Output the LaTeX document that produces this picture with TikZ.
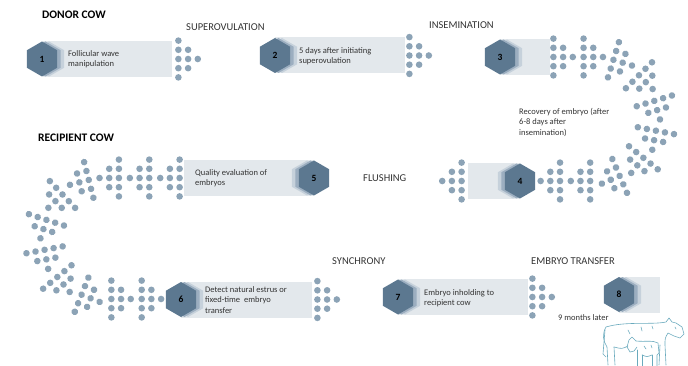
\documentclass[tikz,border=0pt]{standalone}
\usepackage{fontspec}
\setmainfont{Carlito}
\usetikzlibrary{shapes.geometric,decorations.markings}

\definecolor{hexdark}{HTML}{5C7890}
\definecolor{hexmid}{HTML}{9CAEC0}
\definecolor{hexlight}{HTML}{C6D1DB}
\definecolor{boxfill}{HTML}{E3E8EC}
\definecolor{dotfill}{HTML}{8CA3B6}
\definecolor{cowline}{HTML}{6AAABD}
\definecolor{inktext}{HTML}{333333}

\tikzset{
  hexstep/.style={regular polygon, regular polygon sides=6, shape border rotate=30,
    minimum size=35, inner sep=0pt, fill=hexdark, font=\bfseries\fontsize{9.5}{11}\selectfont},
  hexshade/.style={regular polygon, regular polygon sides=6, shape border rotate=30,
    minimum size=35, inner sep=0pt, fill=#1},
  stepbox/.style={fill=boxfill, minimum height=36, inner sep=0pt},
  steptext/.style={anchor=west, align=left, inner sep=0pt, text=inktext,
    font=\fontsize{8.5}{10.5}\selectfont},
  caption/.style={anchor=west, inner sep=0pt, text=inktext, font=\fontsize{10.5}{12}\selectfont},
  heading/.style={anchor=west, inner sep=0pt, font=\bfseries\fontsize{11.5}{13}\selectfont},
  dotarrow/.pic={
    \foreach \r in {-2,...,2} \fill[dotfill] (0,9.2*\r) circle (3.3);
    \foreach \r in {-1,0,1} \fill[dotfill] (9.7,9.2*\r) circle (3.3);
    \fill[dotfill] (19.4,0) circle (3.3);
  },
  dotchain/.style={decorate, decoration={markings,
    mark=between positions 0 and 1 step #1 with {\pic[transform shape]{dotarrow};}}}
}

% hexagon with its two lighter copies behind it
\newcommand\hexbadge[5]{%
  \node[hexshade=hexlight] (#1c) at (#2+#4*7,#3) {};
  \node[hexshade=hexmid] (#1b) at (#2+#4*3.5,#3) {};
  \node[hexstep] (#1) at (#2,#3) {#5};
}

\begin{document}
\begin{tikzpicture}[x=1pt,y=-1pt]
\useasboundingbox (0,0) rectangle (688,366);

% donor cow
\node[heading] (donor) at (42,15) {DONOR COW};
\node[caption] (superov) at (186,27) {SUPEROVULATION};
\node[caption] (insem) at (429,25) {INSEMINATION};

\node[stepbox, minimum width=129, anchor=west] (b1) at (43,59) {};
\node[stepbox, minimum width=130, anchor=west] (b2) at (275,55.5) {};
\node[stepbox, minimum width=50, anchor=west] (b3) at (500,57) {};
\hexbadge{s1}{42}{59}{1}{1}
\hexbadge{s2}{275}{55.5}{1}{2}
\hexbadge{s3}{500}{57}{1}{3}
\node[steptext] (t1) at (68,59) {Follicular wave\\manipulation};
\node[steptext] (t2) at (299,56) {5 days after initiating\\superovulation};
\pic at ([xshift=6]b1.east) {dotarrow};
\pic at ([xshift=4]b2.east) {dotarrow};

% around the bend to flushing
\path[dotchain=0.1111] ([xshift=3]b3.east) -- (595,57)
  arc[start angle=-90, end angle=90, radius=62] -- (560,181);
\node[steptext] (recov) at (519,122) {Recovery of embryo (after\\6-8 days after\\insemination)};

\node[stepbox, minimum width=52, anchor=east] (b4) at (520,181) {};
\hexbadge{s4}{520}{181}{-1}{4}
\pic[rotate=180] at ([xshift=-6]b4.west) {dotarrow};
\node[caption] (flush) at (363,178) {FLUSHING};

% recipient cow
\node[heading] (recip) at (38,138) {RECIPIENT COW};
\node[stepbox, minimum width=130, anchor=east] (b5) at (314,178) {};
\hexbadge{s5}{314}{178}{-1}{5}
\node[steptext] (t5) at (195,178) {Quality evaluation of\\embryos};

\path[dotchain=0.0999] ([xshift=-4]b5.west) -- (104,178)
  arc[start angle=-90, end angle=-270, radius=60.5] -- (142,299);

\node[stepbox, minimum width=131, anchor=west] (b6) at (181,299.5) {};
\node[stepbox, minimum width=130, anchor=west] (b7) at (398,297) {};
\node[stepbox, minimum width=41, anchor=west] (b8) at (619,294.5) {};
\hexbadge{s6}{181}{299.5}{1}{6}
\hexbadge{s7}{398}{297}{1}{7}
\hexbadge{s8}{619}{294.5}{1}{8}
\node[steptext] (t6) at (205,300) {Detect natural estrus or\\fixed-time~~embryo\\transfer};
\node[steptext] (t7) at (424,298) {Embryo inholding to\\recipient cow};
\pic at ([xshift=5]b6.east) {dotarrow};
\pic at ([xshift=4]b7.east) {dotarrow};

\node[caption] (synch) at (332,261) {SYNCHRONY};
\node[caption] (transf) at (531,261) {EMBRYO TRANSFER};
\node[steptext] (later) at (558,318) {9 months later};

% cow and calf
\begin{scope}[draw=cowline, line width=0.6pt, line join=round, line cap=round]
  % cow
  \draw (606,327) .. controls (626,321) and (652,325) .. (666,322)
    -- (669,318) -- (672,322) -- (676,323) -- (682,327) -- (684,334)
    -- (680,338) -- (674,336) -- (668,333) .. controls (665,338) .. (665,345)
    -- (666,365);
  \draw (660,345) -- (659,365);
  \draw (606,327) .. controls (602,334) and (603,341) .. (607,347) -- (608,365);
  \draw (614,347) -- (615,365);
  \draw (605,330) -- (603,354) -- (606,357);
  \draw (614,347) .. controls (622,349) .. (628,346);
  \draw (628,330) -- (630,334) (641,327) -- (642,331) (652,326) -- (653,329)
    (675,327) -- (676,329);
  % calf
  \draw (636,341) -- (632,337) -- (629,340) -- (627,347) -- (630,352) -- (634,351)
    -- (637,347);
  \draw (636,341) .. controls (645,342) and (653,340) .. (658,343) -- (659,353)
    -- (657,355) -- (657,366);
  \draw (652,355) -- (652,366) (642,355) -- (642,366) (637,350) -- (637,366);
  \draw (642,355) .. controls (647,357) .. (652,355);
  \draw (644,346) -- (646,349) (651,345) -- (652,348);
\end{scope}
\end{tikzpicture}
\end{document}
